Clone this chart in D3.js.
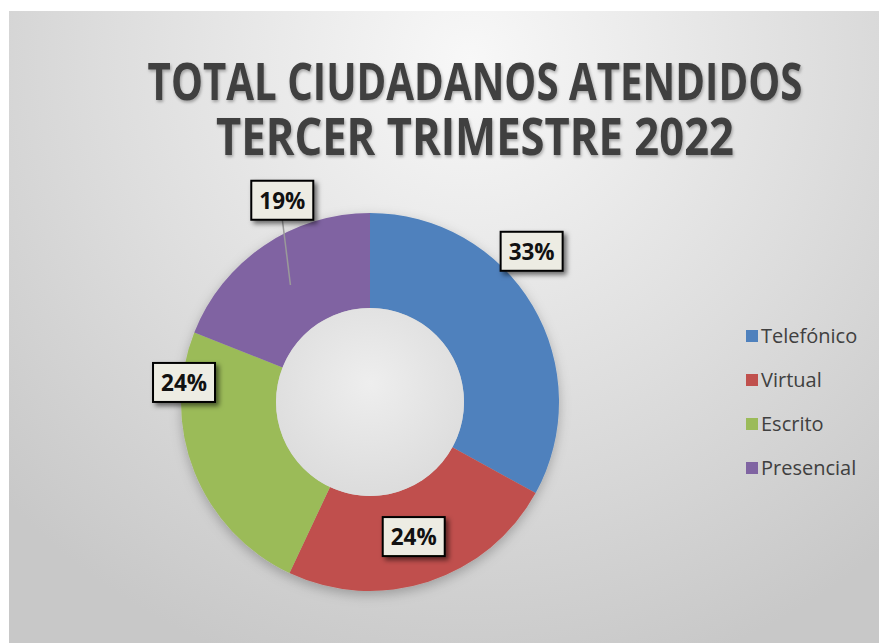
<!DOCTYPE html>
<html>
<head>
<meta charset="utf-8">
<script src="https://cdn.jsdelivr.net/npm/d3@7"></script>
<style>
  body { margin: 0; background: #fff; }
  svg { display: block; }
</style>
</head>
<body>
<svg id="chart"></svg>
<script>
// data
var categories = ["Telefónico", "Virtual", "Escrito", "Presencial"];
var shares = [33, 24, 24, 19];
var colors = ["#4f81bd", "#c0504d", "#9bbb59", "#8064a2"];
var titleLines = ["TOTAL CIUDADANOS ATENDIDOS", "TERCER TRIMESTRE 2022"];

var width = 879, height = 643;
var svg = d3.select("#chart").attr("width", width).attr("height", height);
var defs = svg.append("defs");

// chart area background, light at the top, greyer at the edges
var bg = defs.append("radialGradient").attr("id", "bg")
  .attr("gradientUnits", "userSpaceOnUse")
  .attr("cx", 470).attr("cy", 60).attr("r", 640);
bg.append("stop").attr("offset", "0%").attr("stop-color", "#f8f8f8");
bg.append("stop").attr("offset", "55%").attr("stop-color", "#dedede");
bg.append("stop").attr("offset", "100%").attr("stop-color", "#c8c8c8");

var hole = defs.append("radialGradient").attr("id", "hole")
  .attr("cx", "50%").attr("cy", "40%").attr("r", "60%");
hole.append("stop").attr("offset", "0%").attr("stop-color", "#eeeeee");
hole.append("stop").attr("offset", "100%").attr("stop-color", "#dcdcdc");

var shadow = defs.append("filter").attr("id", "shadow")
  .attr("x", "-20%").attr("y", "-20%").attr("width", "150%").attr("height", "150%");
shadow.append("feDropShadow").attr("dx", 3).attr("dy", 3).attr("stdDeviation", 2.5)
  .attr("flood-color", "#000").attr("flood-opacity", 0.55);

var pieShadow = defs.append("filter").attr("id", "pieShadow")
  .attr("x", "-20%").attr("y", "-20%").attr("width", "140%").attr("height", "140%");
pieShadow.append("feDropShadow").attr("dx", 0).attr("dy", 4).attr("stdDeviation", 6)
  .attr("flood-color", "#000").attr("flood-opacity", 0.25);

var titleShadow = defs.append("filter").attr("id", "titleShadow")
  .attr("x", "-5%").attr("y", "-10%").attr("width", "110%").attr("height", "130%");
titleShadow.append("feDropShadow").attr("dx", 1).attr("dy", 2).attr("stdDeviation", 1.5)
  .attr("flood-color", "#000").attr("flood-opacity", 0.3);

svg.append("rect")
  .attr("x", 9).attr("y", 11)
  .attr("width", width - 9).attr("height", height - 11)
  .attr("fill", "url(#bg)");

// title: each line squeezed sideways to the narrow look of the original
var titleWidths = [655, 518];
var titleG = svg.append("g").attr("filter", "url(#titleShadow)");
titleG.selectAll("text").data(titleLines).enter().append("text")
  .attr("text-anchor", "middle")
  .attr("font-family", "'Open Sans', sans-serif")
  .attr("font-weight", "bold")
  .attr("font-size", 52)
  .attr("fill", "#404040")
  .text(function(d) { return d; })
  .attr("transform", function(d, i) {
    var w = this.getComputedTextLength();
    return "translate(475," + (100 + i * 55) + ") scale(" + (titleWidths[i] / w) + ",1)";
  });

// donut
var cx = 370, cy = 402, outerR = 189, innerR = 94;
var pie = d3.pie().sort(null).value(function(d) { return d; });
var arcs = pie(shares);
var arc = d3.arc().innerRadius(innerR).outerRadius(outerR);
var color = d3.scaleOrdinal().domain(categories).range(colors);

var g = svg.append("g").attr("transform", "translate(" + cx + "," + cy + ")");
g.append("g").attr("filter", "url(#pieShadow)")
  .selectAll("path").data(arcs).enter().append("path")
  .attr("d", arc)
  .attr("fill", function(d, i) { return color(categories[i]); });
g.append("circle").attr("r", innerR).attr("fill", "url(#hole)");

// best-fit label placement like Excel does it: angle (deg) and radius, null = centroid
var labelPlace = [[47, 221], null, [276, 187], [336.5, 220]];
var fmt = d3.format(".0%");
var total = d3.sum(shares);

var labels = g.selectAll(".lbl").data(arcs).enter().append("g")
  .attr("class", "lbl")
  .attr("transform", function(d, i) {
    var p = labelPlace[i];
    if (!p) { var c = arc.centroid(d); return "translate(" + c[0] + "," + c[1] + ")"; }
    var a = p[0] * Math.PI / 180;
    return "translate(" + (Math.sin(a) * p[1]) + "," + (-Math.cos(a) * p[1]) + ")";
  });

// leader line for the label that sits off its slice
labels.each(function(d, i) {
  if (i != 3) return;
  var a = labelPlace[i][0] * Math.PI / 180;
  var lx = Math.sin(a) * labelPlace[i][1], ly = -Math.cos(a) * labelPlace[i][1];
  var c = arc.centroid(d);
  g.insert("line", ".lbl")
    .attr("x1", lx).attr("y1", ly + 19)
    .attr("x2", c[0]).attr("y2", c[1])
    .attr("stroke", "#9a9a9a").attr("stroke-width", 1.5);
});

labels.append("rect")
  .attr("x", -31).attr("y", -19.5)
  .attr("width", 62).attr("height", 39)
  .attr("fill", "#edece3")
  .attr("stroke", "#000")
  .attr("stroke-width", 2)
  .attr("filter", "url(#shadow)");
labels.append("text")
  .attr("text-anchor", "middle")
  .attr("dy", "0.36em")
  .attr("font-family", "'Open Sans', sans-serif")
  .attr("font-weight", "bold")
  .attr("font-size", 23)
  .attr("fill", "#111")
  .attr("textLength", 46)
  .attr("lengthAdjust", "spacingAndGlyphs")
  .text(function(d) { return fmt(d.value / total); });

// legend
var legend = svg.append("g").attr("transform", "translate(746,336)");
var item = legend.selectAll("g").data(categories).enter().append("g")
  .attr("transform", function(d, i) { return "translate(0," + (i * 44) + ")"; });
item.append("rect")
  .attr("x", 0).attr("y", -6).attr("width", 12).attr("height", 12)
  .attr("fill", function(d) { return color(d); });
item.append("text")
  .attr("x", 15).attr("dy", "0.36em")
  .attr("font-family", "'Open Sans', sans-serif")
  .attr("font-size", 20)
  .attr("fill", "#404040")
  .text(function(d) { return d; });
</script>
</body>
</html>
